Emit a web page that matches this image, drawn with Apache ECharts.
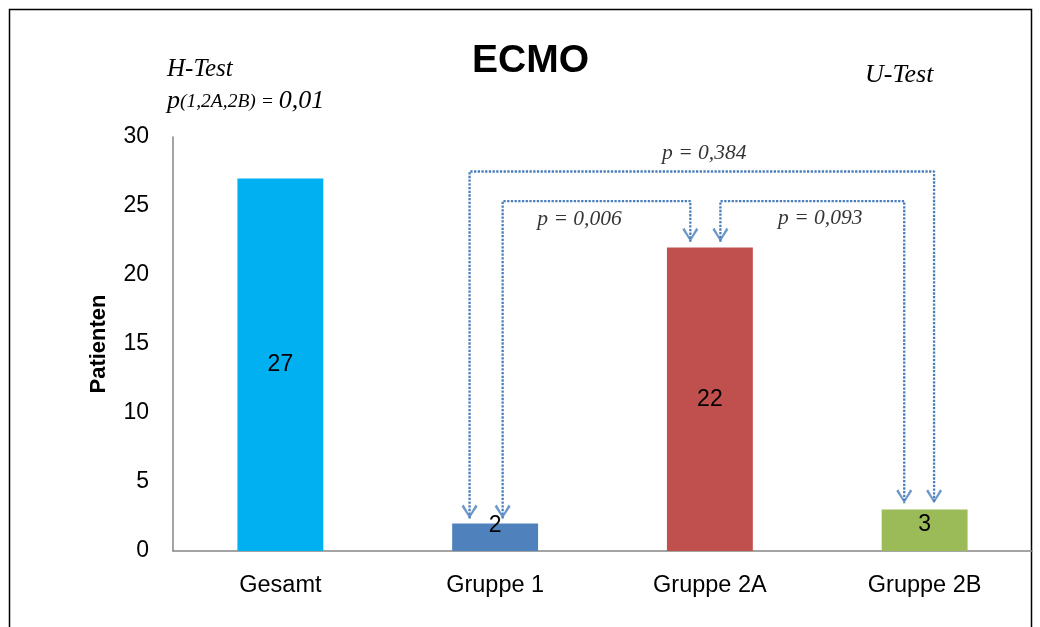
<!DOCTYPE html>
<html><head><meta charset="utf-8">
<script src="https://cdn.jsdelivr.net/npm/echarts@6/dist/echarts.min.js"></script>
<style>html,body{margin:0;padding:0;background:#fff}#c{width:1040px;height:627px}</style>
</head><body><div id="c"></div>
<script>
// ---- data ----
const categories = ['Gesamt', 'Gruppe 1', 'Gruppe 2A', 'Gruppe 2B'];
const patients = [27, 2, 22, 3];
const barColors = ['#00B0F0', '#4F81BD', '#C0504D', '#9BBB59'];
const yTicks = [0, 5, 10, 15, 20, 25, 30];
// comparison brackets (x in category-index units, y in Patienten)
const bracket384 = [[0.881, 2.35], [0.881, 27.5], [3.044, 27.5], [3.044, 3.46]];
const bracket006 = [[1.035, 2.35], [1.035, 25.35], [1.909, 25.35], [1.909, 22.41]];
const bracket093 = [[2.049, 22.41], [2.049, 25.35], [2.905, 25.35], [2.905, 3.46]];
const arrowTips = [[0.881, 2.35], [1.035, 2.35], [1.909, 22.41], [2.049, 22.41], [2.905, 3.46], [3.044, 3.46]];
const pLabels = [[1.974, 28.85, 'p = 0,384'], [1.393, 24.0, 'p = 0,006'], [2.514, 24.12, 'p = 0,093']];

const labelOffsets = [[0, 0], [0, -12], [0, 0], [0, -5.5]];

const chart = echarts.init(document.getElementById('c'));
const dotted = { color: '#4A7EBB', width: 2.3, type: [2.3, 1.4] };
const bracketSeries = [bracket384, bracket006, bracket093].map(b => ({
  type: 'line', xAxisIndex: 1, yAxisIndex: 0, data: b, showSymbol: false, symbol: 'none',
  lineStyle: dotted, silent: true, z: 3
}));

chart.setOption({
  animation: false,
  grid: { left: 173, right: 8, top: 137, bottom: 76 },
  title: {
    text: 'ECMO', left: 467, top: 37,
    textStyle: { fontFamily: 'Liberation Sans', fontWeight: 'bold', fontSize: 39, color: '#000' }
  },
  xAxis: [{
    type: 'category', data: categories,
    axisLine: { lineStyle: { color: '#868686', width: 1.5 } },
    axisTick: { show: false },
    axisLabel: { fontFamily: 'Liberation Sans', fontSize: 23.5, color: '#000', margin: 23 }
  }, {
    type: 'value', min: -0.5, max: 3.5, show: false
  }],
  yAxis: {
    type: 'value', min: 0, max: 30, interval: 5,
    name: 'Patienten', nameLocation: 'middle', nameGap: 63, nameRotate: 90,
    nameTextStyle: { fontFamily: 'Liberation Sans', fontWeight: 'bold', fontSize: 22, color: '#000' },
    axisLine: { show: true, onZero: false, lineStyle: { color: '#868686', width: 1.5 } },
    axisTick: { show: false },
    splitLine: { show: false },
    axisLabel: {
      fontFamily: 'Liberation Sans', fontSize: 23, color: '#000', margin: 24,
      formatter: v => yTicks.includes(v) ? String(v) : ''
    }
  },
  series: [{
    type: 'bar', barWidth: '40%', z: 2,
    data: patients.map((v, i) => ({
      value: v, itemStyle: { color: barColors[i] },
      label: { offset: labelOffsets[i] }
    })),
    label: {
      show: true, position: 'inside', fontFamily: 'Liberation Sans', fontSize: 23, color: '#000'
    }
  }, ...bracketSeries, {
    type: 'scatter', xAxisIndex: 1, yAxisIndex: 0, data: arrowTips, z: 4, silent: true,
    symbol: 'path://M0,1.6 L1.8,0 L7,8.9 L12.2,0 L14,1.6 L7,12 Z',
    symbolSize: [16, 14], symbolOffset: [0, '-50%'],
    itemStyle: { color: '#4A7EBB' }
  }, {
    type: 'scatter', xAxisIndex: 1, yAxisIndex: 0, z: 5, silent: true,
    data: pLabels.map(p => ({ value: [p[0], p[1]], name: p[2] })),
    symbolSize: 0,
    label: {
      show: true, position: 'inside', formatter: p => p.name,
      fontFamily: 'Liberation Serif', fontStyle: 'italic', fontSize: 21.5, color: '#000'
    }
  }],
  graphic: [{
    type: 'rect', silent: true, z: -1,
    shape: { x: 9.5, y: 9.5, width: 1022, height: 700 },
    style: { fill: 'none', stroke: '#000', lineWidth: 1.5 }
  }, {
    type: 'text', left: 167, top: 57, silent: true,
    style: {
      text: '{a|H-Test}\n{b|p}{c|(1,2A,2B) = }{d|0,01}',
      rich: {
        a: { fontFamily: 'Liberation Serif', fontStyle: 'italic', fontSize: 25, color: '#000', lineHeight: 32 },
        b: { fontFamily: 'Liberation Serif', fontStyle: 'italic', fontSize: 26, color: '#000', lineHeight: 32 },
        c: { fontFamily: 'Liberation Serif', fontStyle: 'italic', fontSize: 19.5, color: '#000', lineHeight: 32 },
        d: { fontFamily: 'Liberation Serif', fontStyle: 'italic', fontSize: 26, color: '#000', lineHeight: 32 }
      }
    }
  }, {
    type: 'text', left: 865, top: 62, silent: true,
    style: { text: 'U-Test', fontFamily: 'Liberation Serif', fontStyle: 'italic', fontSize: 26, fill: '#000' }
  }]
});
</script></body></html>
